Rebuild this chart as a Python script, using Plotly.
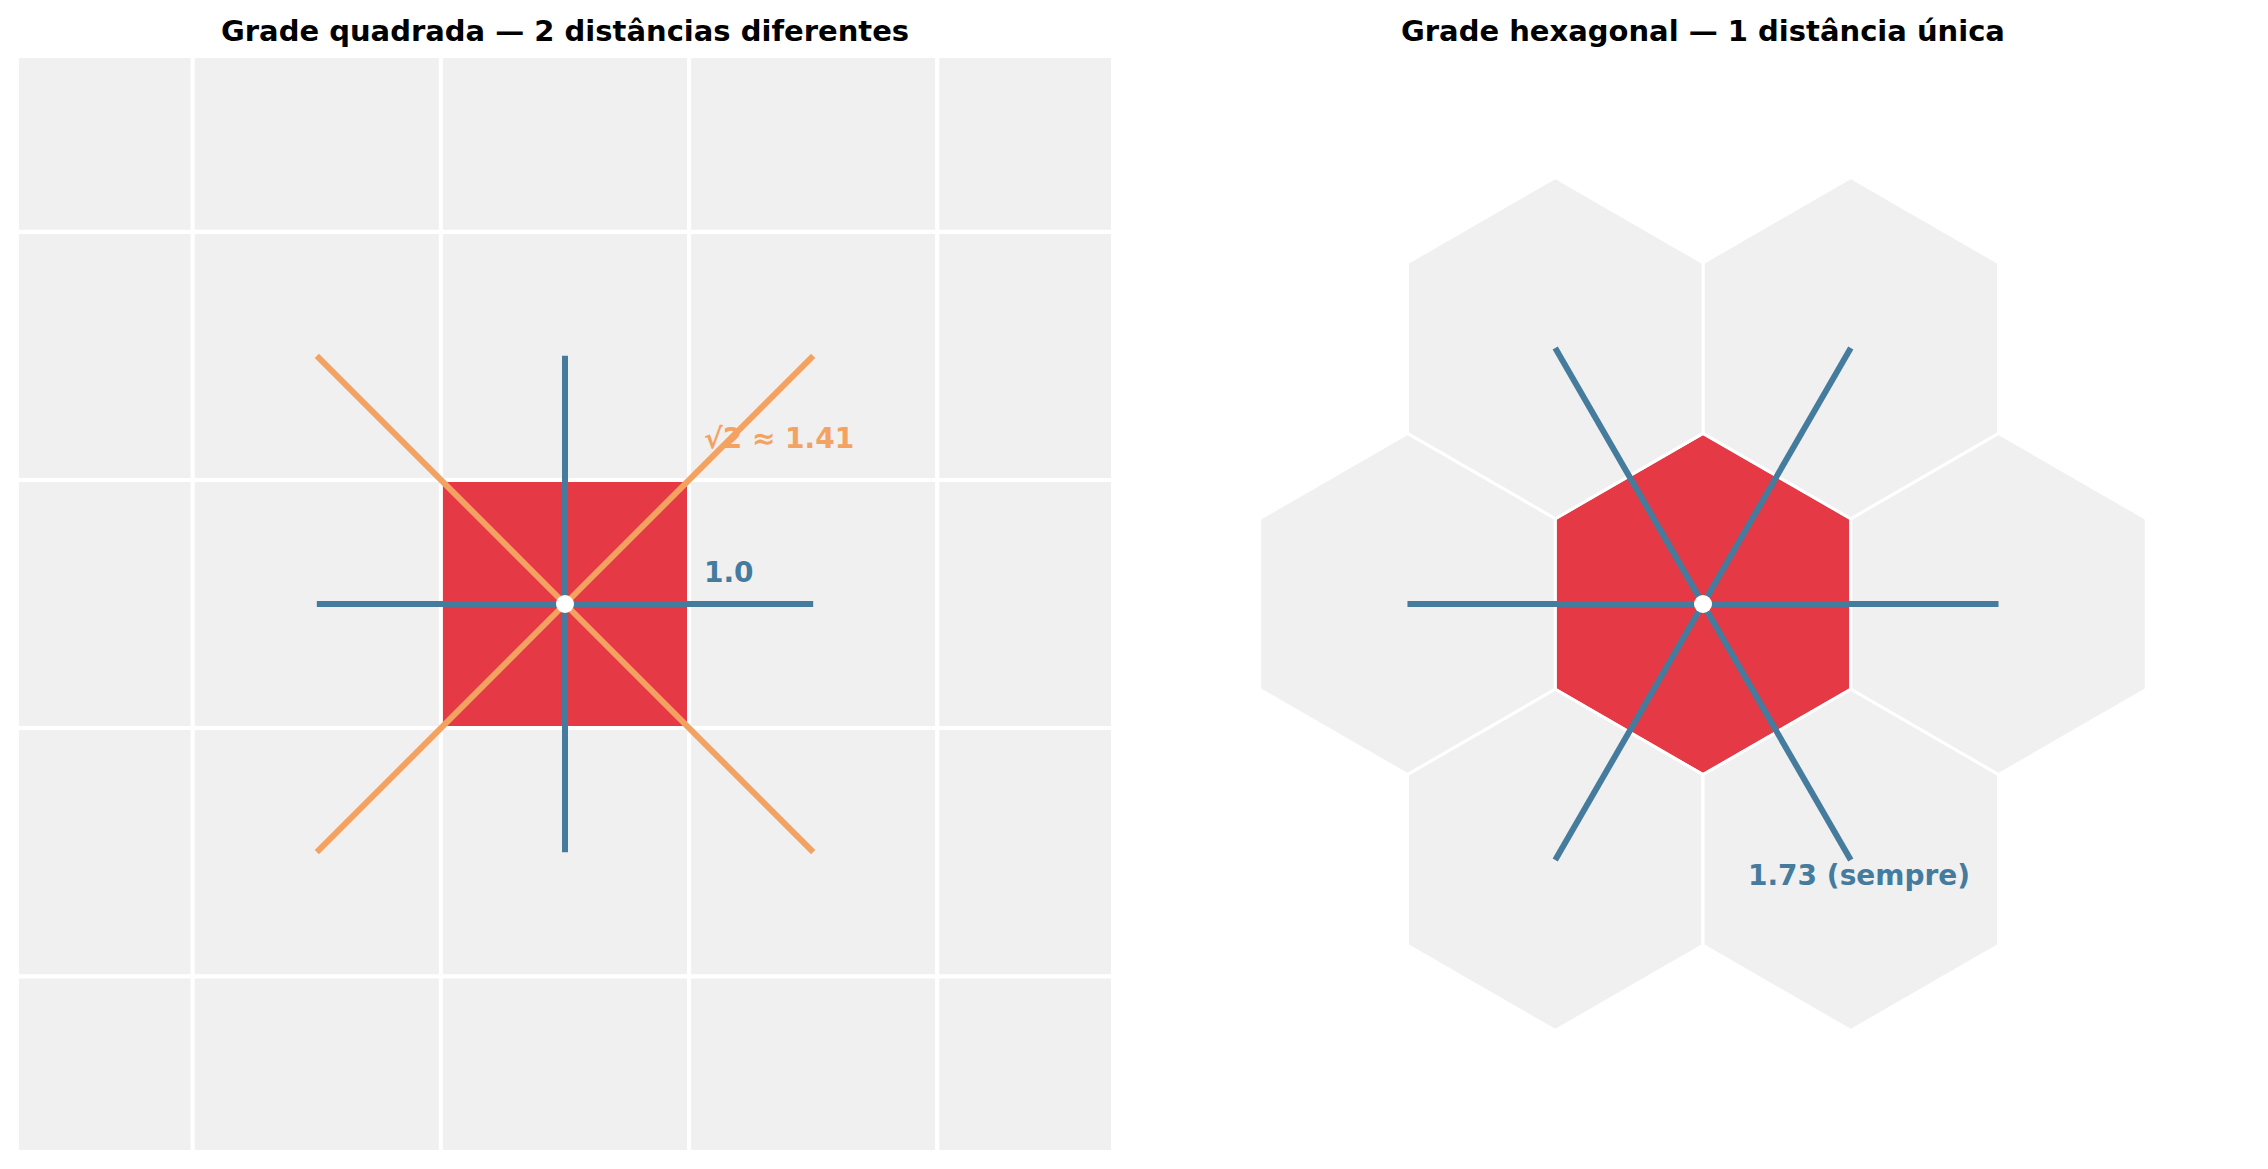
import numpy as np
import plotly.graph_objects as go

# --- dados ---
grid_cols = [-2, -1, 0, 1, 2]
grid_rows = [-2, -1, 0, 1, 2]
orth_dx = [1, 0, -1, 0]
orth_dy = [0, 1, 0, -1]
diag_dx = [1, -1, -1, 1]
diag_dy = [1, 1, -1, -1]

hex_radius = 1.0
hex_neighbor_angles = [0, 60, 120, 180, 240, 300]
hex_vertex_angles = [30, 90, 150, 210, 270, 330]

titles = ["Grade quadrada — 2 distâncias diferentes", "Grade hexagonal — 1 distância única"]
label_orth = "1.0"
label_diag = "√2 ≈ 1.41"
label_hex = "1.73 (sempre)"

GRAY = "#f0f0f0"
RED = "#e63946"
BLUE = "#457b9d"
ORANGE = "#f4a261"
# a pagina tem margem de 8px no body
W, H = 2252, 1153
FONT = "DejaVu Sans"


def segs(dx, dy):
    xs, ys = [], []
    for a, b in zip(dx, dy):
        xs += [0, a, None]
        ys += [0, b, None]
    return xs, ys


fig = go.Figure()

# grade quadrada
for c in grid_cols:
    for r in grid_rows:
        fill = RED if (c == 0 and r == 0) else GRAY
        fig.add_trace(go.Scatter(
            x=[c - 0.5, c + 0.5, c + 0.5, c - 0.5, c - 0.5],
            y=[r - 0.5, r - 0.5, r + 0.5, r + 0.5, r - 0.5],
            mode="lines", fill="toself", fillcolor=fill,
            line=dict(color="white", width=4), hoverinfo="skip",
            showlegend=False, xaxis="x", yaxis="y"))

xs, ys = segs(diag_dx, diag_dy)
fig.add_trace(go.Scatter(x=xs, y=ys, mode="lines", line=dict(color=ORANGE, width=6),
                         showlegend=False, xaxis="x", yaxis="y"))
xs, ys = segs(orth_dx, orth_dy)
fig.add_trace(go.Scatter(x=xs, y=ys, mode="lines", line=dict(color=BLUE, width=6),
                         showlegend=False, xaxis="x", yaxis="y"))
fig.add_trace(go.Scatter(x=[0], y=[0], mode="markers",
                         marker=dict(color="white", size=18, line=dict(width=0)),
                         showlegend=False, xaxis="x", yaxis="y"))

# grade hexagonal
d = np.sqrt(3) * hex_radius
centers = [(0.0, 0.0)] + [(d * np.cos(np.radians(a)), d * np.sin(np.radians(a)))
                          for a in hex_neighbor_angles]
va = np.radians(hex_vertex_angles + [hex_vertex_angles[0]])
for i, (cx, cy) in enumerate(centers):
    fig.add_trace(go.Scatter(
        x=cx + hex_radius * np.cos(va), y=cy + hex_radius * np.sin(va),
        mode="lines", fill="toself", fillcolor=RED if i == 0 else GRAY,
        line=dict(color="white", width=3), hoverinfo="skip",
        showlegend=False, xaxis="x2", yaxis="y2"))

hx, hy = [], []
for cx, cy in centers[1:]:
    hx += [0, cx, None]
    hy += [0, cy, None]
fig.add_trace(go.Scatter(x=hx, y=hy, mode="lines", line=dict(color=BLUE, width=6),
                         showlegend=False, xaxis="x2", yaxis="y2"))
fig.add_trace(go.Scatter(x=[0], y=[0], mode="markers",
                         marker=dict(color="white", size=18, line=dict(width=0)),
                         showlegend=False, xaxis="x2", yaxis="y2"))

ax_common = dict(visible=False, showgrid=False, zeroline=False, fixedrange=True)
ydom = [11 / H, 1103 / H]
fig.update_layout(
    width=W, height=H,
    margin=dict(l=0, r=0, t=0, b=0),
    paper_bgcolor="white", plot_bgcolor="white",
    xaxis=dict(domain=[11 / W, 1103 / W], range=[-2.2, 2.2], **ax_common),
    yaxis=dict(domain=ydom, range=[-2.2, 2.2], **ax_common),
    xaxis2=dict(domain=[1149 / W, 2241 / W], range=[-3.2, 3.2], anchor="y2", **ax_common),
    yaxis2=dict(domain=ydom, range=[-3.2, 3.2], anchor="x2", **ax_common),
)

title_font = dict(family=FONT, size=29, color="black", weight="bold")
for t, xc in zip(titles, [557 / W, 1695 / W]):
    fig.add_annotation(text=t, x=xc, y=(H - 42) / H, xref="paper", yref="paper",
                       xanchor="center", yanchor="bottom", showarrow=False, font=title_font)

lab_font = dict(family=FONT, size=28, weight="bold")
fig.add_annotation(text=label_diag, x=0.55, y=0.665, xref="x", yref="y", xanchor="left",
                   yanchor="middle", showarrow=False, font=dict(color=ORANGE, **lab_font))
fig.add_annotation(text=label_orth, x=0.55, y=0.125, xref="x", yref="y", xanchor="left",
                   yanchor="middle", showarrow=False, font=dict(color=BLUE, **lab_font))
fig.add_annotation(text=label_hex, x=0.25, y=-1.59, xref="x2", yref="y2", xanchor="left",
                   yanchor="middle", showarrow=False, font=dict(color=BLUE, **lab_font))

fig.write_html("out.html")
